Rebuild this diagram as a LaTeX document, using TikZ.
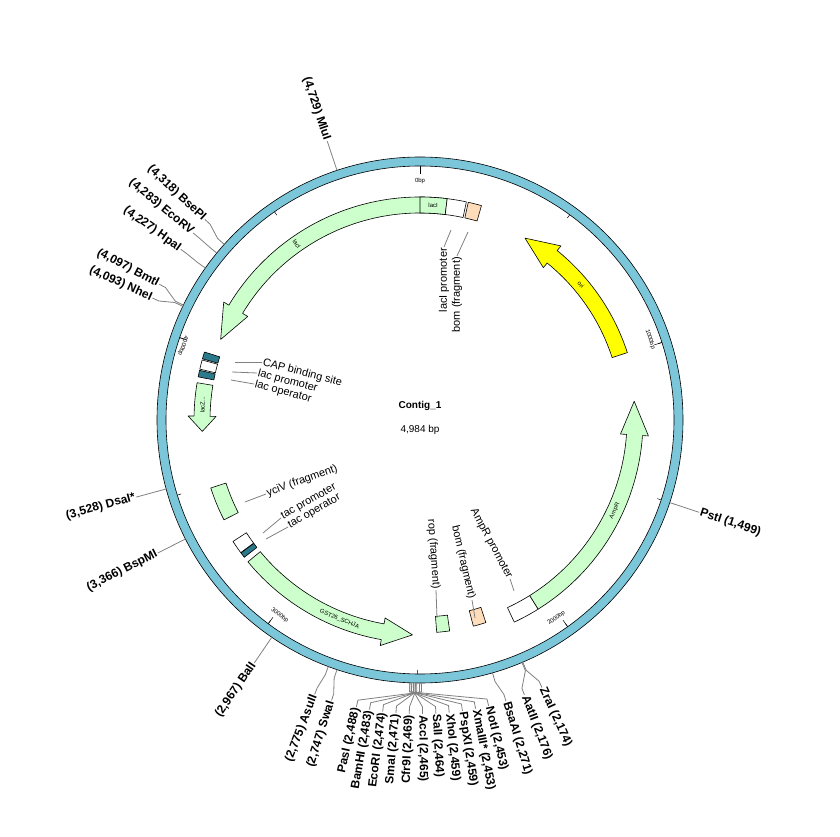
\documentclass[tikz,border=0pt]{standalone}
\usepackage{fontspec}
\setmainfont{Liberation Sans}
\usepackage{tikz}
\definecolor{ring}{HTML}{7CC6DA}
\definecolor{gene}{HTML}{CCFFCC}
\definecolor{peach}{HTML}{FFDDBB}
\definecolor{teal}{HTML}{2A7A8C}
\definecolor{oriy}{HTML}{FFFF00}
\tikzset{
  feat/.style={draw=black, line width=0.6pt, line join=round},
  lead/.style={draw=gray, line width=0.8pt},
  site/.style={font=\bfseries\fontsize{12}{12}\selectfont, inner sep=1pt},
  flab/.style={font=\fontsize{11}{11}\selectfont, inner sep=1pt},
  tiny/.style={font=\fontsize{6}{6}\selectfont, inner sep=0pt},
}
% arrow on the map: style, start, end, radius, head (deg)
\newcommand{\featarrow}[5]{%
  \pgfmathsetmacro\hb{#3-#5}\pgfmathsetmacro\ro{#4+8}\pgfmathsetmacro\ri{#4-8}%
  \pgfmathsetmacro\hro{#4+14}\pgfmathsetmacro\hri{#4-14}%
  \draw[feat,#1] (#2:\ro pt) arc[start angle=#2,end angle=\hb,radius=\ro pt]
    -- (\hb:\hro pt) -- (#3:#4 pt) -- (\hb:\hri pt) -- (\hb:\ri pt)
    arc[start angle=\hb,end angle=#2,radius=\ri pt] -- cycle;}
% box on the map: style, start, end, radius
\newcommand{\featbox}[4]{%
  \pgfmathsetmacro\ro{#4+8}\pgfmathsetmacro\ri{#4-8}%
  \draw[feat,#1] (#2:\ro pt) arc[start angle=#2,end angle=#3,radius=\ro pt]
    -- (#3:\ri pt) arc[start angle=#3,end angle=#2,radius=\ri pt] -- cycle;}
% cut site: name, site angle, label angle, text
\newcommand{\cutsite}[4]{%
  \pgfmathsetmacro\rot{(#3>90 && #3<270.2) ? #3-180 : #3}%
  \pgfmathsetmacro\isleft{(#3>90 && #3<270.2) ? 1 : 0}%
  \ifdim\isleft pt>0.5pt
    \node[site,rotate=\rot,anchor=east] (#1) at (#3:294pt) {#4};
  \else
    \node[site,rotate=\rot,anchor=west] (#1) at (#3:294pt) {#4};
  \fi
  \coordinate (#1-c) at (#2:263pt);
  \draw[lead] (#1-c) -- (#2:272pt) -- (#3:287pt) -- (#1);}

\begin{document}
\begin{tikzpicture}[x=1pt,y=1pt]
  \useasboundingbox (0,0) rectangle (840,836);
  \begin{scope}[shift={(420,416)}]
    % backbone
    \fill[ring,even odd rule] (0,0) circle (263pt) (0,0) circle (254pt);
    \draw[line width=0.6pt] (0,0) circle (263pt) (0,0) circle (254pt);
    \foreach \b in {0,500,...,4500}
      \draw[line width=0.5pt] ({90-\b/4984*360}:254pt) -- ({90-\b/4984*360}:250pt);
    \foreach \b/\r in {0/0,1000/-72.2,2000/35.5,3000/323.3,4000/251}
      \draw[line width=0.5pt] ({90-\b/4984*360}:254pt) -- ({90-\b/4984*360}:246pt)
        node[tiny,pos=1,anchor=center,rotate=\r,shift={({90-\b/4984*360}:-7pt)}] {\b bp};
    % features
    \featarrow{fill=gene}{83}{158}{215}{9}
    \featbox{fill=gene}{90}{83}{215}
    \featbox{fill=white}{83}{78}{215}
    \featbox{fill=peach}{77.5}{74}{215}
    \featbox{fill=teal}{162.5}{164.3}{218}
    \featbox{fill=white}{164.6}{167}{218}
    \featbox{fill=teal}{167.3}{169}{218}
    \featarrow{fill=gene}{170.5}{183}{218}{4}
    \featbox{fill=gene}{198}{207}{212}
    \featbox{fill=white}{213}{216.5}{215}
    \featbox{fill=teal}{216.6}{218}{215}
    \featarrow{fill=gene}{219.5}{268}{215}{8}
    \featbox{fill=gene}{274.5}{278}{205}
    \featbox{fill=peach}{284.5}{288}{205}
    \featbox{fill=white}{295}{302}{215}
    \featarrow{fill=gene}{302}{365}{215}{9}
    \featarrow{fill=oriy}{18}{60}{210}{9}
    \node[tiny,rotate=-55] (lacIt) at (125:215pt) {lacI};
    \node[tiny] (lacIb) at (86.5:215pt) {lacI};
    \node[tiny,rotate=90] (lacZt) at (176:218pt) {lacZ...};
    \node[tiny,rotate=-22] (gstt) at (248:215pt) {GST26\_SCHJA};
    \node[tiny,rotate=65] (ampt) at (335:215pt) {AmpR};
    \node[tiny,rotate=-50] (orit) at (40:210pt) {ori};
    % centre
    \node[font=\bfseries\fontsize{10}{10}\selectfont] (name) at (0,14) {Contig\_1};
    \node[font=\fontsize{10}{10}\selectfont] (size) at (0,-10) {4,984 bp};
    % cut sites
    \cutsite{mlu}{108.4}{108.4}{(4,729) MluI}
    \cutsite{bse}{138.1}{137}{(4,318) BsePI}
    \cutsite{eco5}{140.6}{140.5}{(4,283) EcoRV}
    \cutsite{hpa}{144.7}{144.5}{(4,227) HpaI}
    \cutsite{bmt}{154.1}{152.5}{(4,097) BmtI}
    \cutsite{nhe}{154.4}{155.5}{(4,093) NheI}
    \cutsite{dsa}{195.2}{195.2}{(3,528) DsaI*}
    \cutsite{bspm}{206.9}{206.9}{(3,366) BspMI}
    \cutsite{bal}{235.7}{235.7}{(2,967) BalI}
    \cutsite{asu}{249.6}{249}{(2,775) AsuII}
    \cutsite{swa}{251.6}{252.5}{(2,747) SwaI}
    \foreach \n/\s/\t [count=\i from 0] in {pas/270.3/{PasI (2,488)},bam/269.9/{BamHI (2,483)},ecor/269.3/{EcoRI (2,474)},sma/269.1/{SmaI (2,471)},cfr/269.0/{Cfr9I (2,469)},acc/268.7/{AccI (2,465)},sal/268.6/{SalI (2,464)},xho/268.2/{XhoI (2,459)},psp/268.2/{PspXI (2,459)},xma/267.8/{XmaIII* (2,453)},not/267.8/{NotI (2,453)}}
      \cutsite{\n}{\s}{257.5+2.6*\i}{\t};
    \cutsite{bsaa}{286}{287}{BsaAI (2,271)}
    \cutsite{aat}{292.8}{290.8}{AatII (2,176)}
    \cutsite{zra}{293}{294.5}{ZraI (2,174)}
    \cutsite{pst}{-18.3}{-18.3}{PstI (1,499)}
  \end{scope}
  % feature labels
  \node[flab,rotate=90,anchor=east] (lacIp) at (444,589) {lacI promoter};
  \node[flab,rotate=90,anchor=east] (bom1) at (457,580) {bom (fragment)};
  \coordinate (lacIpc) at (451,606); \coordinate (bom1c) at (468,604);
  \draw[lead] (lacIpc) -- (lacIp.east); \draw[lead] (bom1c) -- (bom1.east);
  \node[flab,rotate=-15,anchor=west] (cap) at (262,474) {CAP binding site};
  \node[flab,rotate=-15,anchor=west] (lacp) at (257,463) {lac promoter};
  \node[flab,rotate=-15,anchor=west] (laco) at (254,452) {lac operator};
  \coordinate (capc) at (235,474); \coordinate (lacpc) at (232,464); \coordinate (lacoc) at (231,456);
  \draw[lead] (capc) -- (cap.west); \draw[lead] (lacpc) -- (lacp.west); \draw[lead] (lacoc) -- (laco.west);
  \node[flab,rotate=20,anchor=west] (yciv) at (266,342) {yciV (fragment)};
  \node[flab,rotate=30,anchor=west] (tacp) at (281,318) {tac promoter};
  \node[flab,rotate=30,anchor=west] (taco) at (288,309) {tac operator};
  \coordinate (ycivc) at (245,334); \coordinate (tacpc) at (263,303); \coordinate (tacoc) at (266,297);
  \draw[lead] (ycivc) -- (yciv.west); \draw[lead] (tacpc) -- (tacp.west); \draw[lead] (tacoc) -- (taco.west);
  \node[flab,rotate=-86,anchor=east] (rop) at (436,246) {rop (fragment)};
  \node[flab,rotate=-77,anchor=east] (bom2) at (472,236) {bom (fragment)};
  \node[flab,rotate=-62,anchor=east] (ampp) at (510,257) {AmpR promoter};
  \coordinate (ropc) at (437,218); \coordinate (bom2c) at (475,218); \coordinate (amppc) at (514,245);
  \draw[lead] (ropc) -- (rop.east); \draw[lead] (bom2c) -- (bom2.east); \draw[lead] (amppc) -- (ampp.east);
\end{tikzpicture}
\end{document}
